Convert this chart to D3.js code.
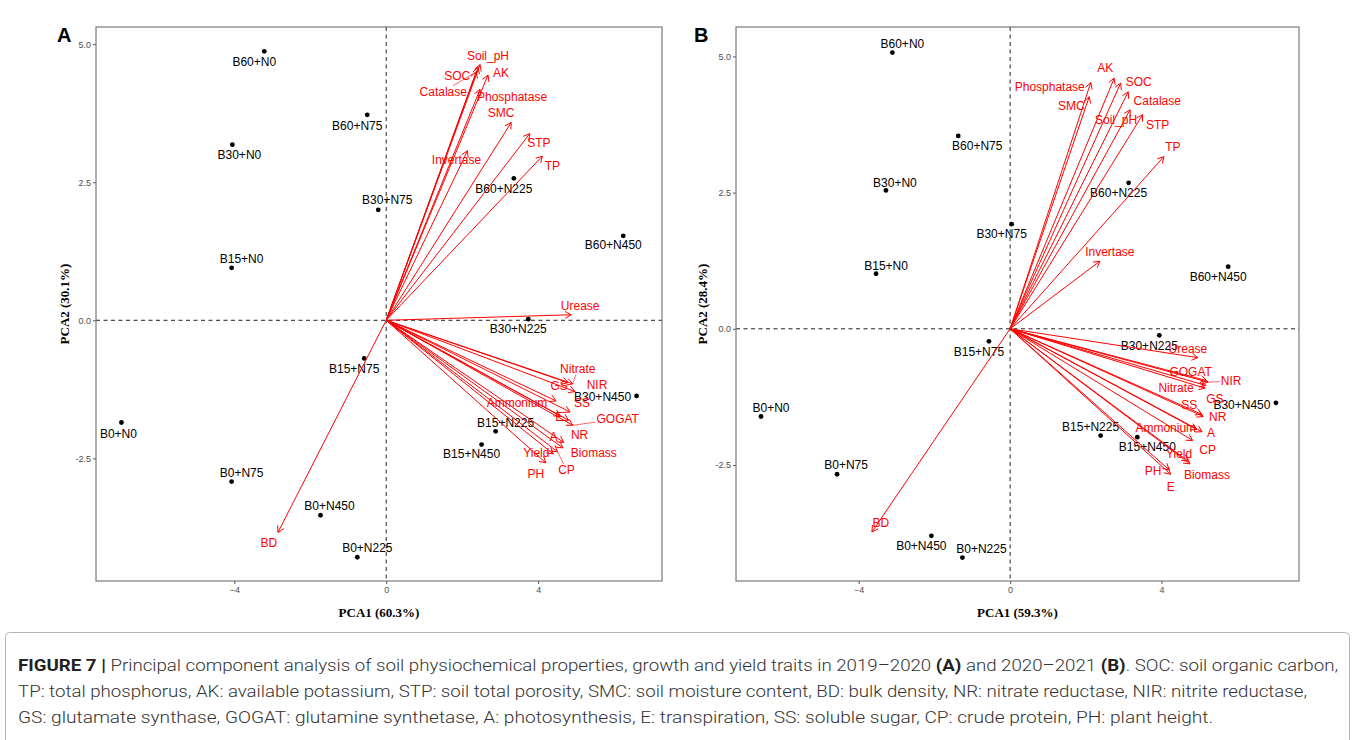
<!DOCTYPE html>
<html>
<head>
<meta charset="utf-8">
<script src="https://cdn.jsdelivr.net/npm/d3@7"></script>
<style>
  body { margin: 0; background: #fff; }
  svg { display: block; }
</style>
</head>
<body>
<svg id="fig" width="1355" height="740"></svg>
<script>
// ---- data ----
const samples = ["B0+N0", "B0+N75", "B0+N225", "B0+N450", "B15+N0", "B15+N75", "B15+N225", "B15+N450",
  "B30+N0", "B30+N75", "B30+N225", "B30+N450", "B60+N0", "B60+N75", "B60+N225", "B60+N450"];

// 2019-2020 (A)
const pc1A = [-6.97, -4.07, -0.76, -1.73, -4.07, -0.58, 2.88, 2.51, -4.05, -0.21, 3.74, 6.59, -3.21, -0.50, 3.36, 6.24];
const pc2A = [-1.85, -2.92, -4.29, -3.53, 0.95, -0.69, -2.01, -2.25, 3.18, 2.00, 0.02, -1.37, 4.87, 3.72, 2.57, 1.53];
const varsA = ["Soil_pH", "SOC", "Catalase", "AK", "Phosphatase", "SMC", "STP", "TP", "Invertase", "Urease", "BD",
  "Nitrate", "GS", "NIR", "SS", "Ammonium", "E", "GOGAT", "NR", "A", "Biomass", "Yield", "CP", "PH"];
const load1A = [2.47, 2.42, 2.37, 2.68, 2.47, 3.29, 3.78, 4.11, 2.14, 4.87, -2.85,
  4.91, 4.79, 4.97, 4.84, 4.47, 4.58, 4.91, 4.80, 4.67, 4.65, 4.40, 4.51, 4.20];
const load2A = [4.63, 4.58, 4.50, 4.44, 4.18, 3.58, 3.38, 2.97, 3.07, 0.10, -3.84,
  -1.15, -1.13, -1.29, -1.66, -1.46, -1.73, -1.90, -1.81, -2.21, -2.31, -2.42, -2.38, -2.58];

// 2020-2021 (B)
const pc1B = [-6.58, -4.57, -1.26, -2.08, -3.54, -0.56, 2.39, 3.36, -3.28, 0.04, 3.94, 7.02, -3.11, -1.37, 3.13, 5.76];
const pc2B = [-1.61, -2.67, -4.20, -3.80, 1.01, -0.23, -1.96, -1.99, 2.54, 1.92, -0.12, -1.36, 5.07, 3.54, 2.68, 1.14];
const varsB = ["Phosphatase", "SMC", "AK", "SOC", "Catalase", "Soil_pH", "STP", "TP", "Invertase", "BD", "Urease",
  "GOGAT", "NIR", "Nitrate", "GS", "SS", "NR", "Ammonium", "A", "CP", "Yield", "Biomass", "PH", "E"];
const load1B = [2.13, 2.09, 2.75, 2.92, 3.12, 3.17, 3.50, 4.06, 2.37, -3.65, 4.96,
  5.19, 5.23, 5.15, 5.17, 5.10, 5.06, 4.93, 5.07, 4.82, 4.70, 4.75, 4.20, 4.24];
const load2B = [4.52, 4.26, 4.60, 4.51, 4.35, 4.02, 3.93, 3.16, 1.24, -3.73, -0.53,
  -0.95, -0.98, -1.09, -1.04, -1.61, -1.57, -1.85, -1.89, -2.05, -2.43, -2.48, -2.59, -2.67];

const xTicks = [-4, 0, 4];
const yTicks = [-2.5, 0, 2.5, 5];
const yTickLabels = ["-2.5", "0.0", "2.5", "5.0"];

// ---- label placement (px offsets of label centre from point / arrow tip) ----
const ptOffA = [[-3, 11], [10, -9], [10, -9], [9, -9], [10, -9], [-10, 10], [10, -9], [-10, 9],
  [7, 10], [9, -10], [-10, 10], [-34, 1], [-10, 10], [-10, 11], [-10, 10], [-10, 9]];
const ptOffB = [[10, -9], [9, -9], [19, -9], [-10, 10], [10, -8], [-10, 10], [-10, -9], [10, 10],
  [9, -8], [-10, 10], [-10, 10], [-34, 2], [10, -9], [19, 10], [-10, 10], [-10, 10]];
const varOffA = [[8, -9], [-21, 8], [-33, 20], [13, -2], [32, 7], [-10, -10], [9, 9], [10, 10], [-11, 9], [9, -9], [-9, 10],
  [5, -15], [-9, 3], [22, -7], [12, -9], [-39, 2], [-1, 1], [45, -6], [11, 15], [-10, -6], [31, 5], [-17, -1], [9, 18], [-10, 11]];
const varOffB = [[-41, 4], [-18, 9], [-9, -10], [18, -1], [29, 9], [-14, 10], [15, 10], [9, -10], [10, -9], [9, -9], [-10, -9],
  [-16, -9], [23, -1], [-29, 0], [9, 13], [-14, -12], [16, 2], [-31, -2], [9, 1], [15, 9], [-9, -7], [17, 11], [-16, 1], [0, 13]];
const segsA = ["Catalase", "Nitrate", "GOGAT", "CP"];
const segsB = ["NIR"];

const RED = "#ff0000";
const svg = d3.select("#fig");

const panels = [
  { letter: "A", lx: 57, box: [96, 662, 27, 581], xd: [-7.64, 7.26], yd: [-4.72, 5.31],
    pc1: pc1A, pc2: pc2A, ptOff: ptOffA, vars: varsA, l1: load1A, l2: load2A, vOff: varOffA, segs: segsA,
    xTitle: "PCA1 (60.3%)", yTitle: "PCA2 (30.1%)", yTitleX: 64 },
  { letter: "B", lx: 694, box: [736, 1299, 27, 581], xd: [-7.24, 7.63], yd: [-4.63, 5.54],
    pc1: pc1B, pc2: pc2B, ptOff: ptOffB, vars: varsB, l1: load1B, l2: load2B, vOff: varOffB, segs: segsB,
    xTitle: "PCA1 (59.3%)", yTitle: "PCA2 (28.4%)", yTitleX: 702 }
];

panels.forEach(drawPanel);

function drawPanel(p) {
  const [x0, x1, y0, y1] = p.box;
  const x = d3.scaleLinear().domain(p.xd).range([x0, x1]);
  const y = d3.scaleLinear().domain(p.yd).range([y1, y0]);
  const g = svg.append("g");

  // axes
  const ax = g.append("g").attr("transform", `translate(0,${y1})`)
    .call(d3.axisBottom(x).tickValues(xTicks).tickFormat(d3.format("d")).tickSize(3).tickPadding(3));
  const ay = g.append("g").attr("transform", `translate(${x0},0)`)
    .call(d3.axisLeft(y).tickValues(yTicks).tickFormat((d, i) => yTickLabels[i]).tickSize(3).tickPadding(2));
  [ax, ay].forEach(a => {
    a.select(".domain").remove();
    a.selectAll("line").attr("stroke", "#555");
    a.selectAll("text").attr("fill", "#4d4d4d").style("font", "9px 'Liberation Sans', Arial, sans-serif");
  });

  // zero lines
  g.append("line").attr("x1", x(0)).attr("x2", x(0)).attr("y1", y0).attr("y2", y1)
    .attr("stroke", "#222").attr("stroke-dasharray", "4,3.5");
  g.append("line").attr("x1", x0).attr("x2", x1).attr("y1", y(0)).attr("y2", y(0))
    .attr("stroke", "#222").attr("stroke-dasharray", "4,3.5");

  // frame
  g.append("rect").attr("x", x0).attr("y", y0).attr("width", x1 - x0).attr("height", y1 - y0)
    .attr("fill", "none").attr("stroke", "#6e6e6e").attr("stroke-width", 1.1);

  // points
  g.selectAll(".pt").data(samples).join("circle")
    .attr("cx", (d, i) => x(p.pc1[i])).attr("cy", (d, i) => y(p.pc2[i]))
    .attr("r", 2.4).attr("fill", "#000");
  g.selectAll(".ptlab").data(samples).join("text")
    .attr("x", (d, i) => x(p.pc1[i]) + p.ptOff[i][0])
    .attr("y", (d, i) => y(p.pc2[i]) + p.ptOff[i][1])
    .attr("dy", "0.35em").attr("text-anchor", "middle")
    .style("font", "12px 'Liberation Sans', Arial, sans-serif").attr("fill", "#000")
    .text(d => d);

  // loading arrows
  const ox = x(0), oy = y(0);
  const head = 7, ang = Math.PI / 6;
  const arrows = g.append("g").attr("stroke", RED).attr("fill", "none").attr("stroke-width", 1);
  p.vars.forEach((v, i) => {
    const tx = x(p.l1[i]), ty = y(p.l2[i]);
    const a = Math.atan2(ty - oy, tx - ox);
    arrows.append("line").attr("x1", ox).attr("y1", oy).attr("x2", tx).attr("y2", ty);
    arrows.append("path").attr("d",
      `M${tx - head * Math.cos(a - ang)},${ty - head * Math.sin(a - ang)}L${tx},${ty}` +
      `L${tx - head * Math.cos(a + ang)},${ty - head * Math.sin(a + ang)}`);
  });

  // variable labels
  p.vars.forEach((v, i) => {
    const tx = x(p.l1[i]), ty = y(p.l2[i]);
    const cx = tx + p.vOff[i][0], cy = ty + p.vOff[i][1];
    const t = g.append("text").attr("x", cx).attr("y", cy).attr("dy", "0.35em")
      .attr("text-anchor", "middle").attr("fill", RED)
      .style("font", "12px 'Liberation Sans', Arial, sans-serif").text(v);
    if (p.segs.includes(v)) {
      const bb = t.node().getBBox();
      const hw = bb.width / 2 + 1, hh = bb.height / 2 - 1;
      const dx = tx - cx, dy = ty - cy;
      const k = Math.min(hw / Math.abs(dx || 1e-6), hh / Math.abs(dy || 1e-6));
      g.append("line").attr("x1", cx + k * dx).attr("y1", cy + k * dy).attr("x2", tx).attr("y2", ty)
        .attr("stroke", RED).attr("stroke-width", 0.6);
    }
  });

  // titles
  g.append("text").attr("x", (x0 + x1) / 2).attr("y", 617).attr("text-anchor", "middle")
    .style("font", "bold 13px 'Liberation Serif', 'Times New Roman', serif").text(p.xTitle);
  g.append("text").attr("transform", `translate(${p.yTitleX},${(y0 + y1) / 2}) rotate(-90)`)
    .attr("text-anchor", "middle").attr("dy", "0.35em")
    .style("font", "bold 13px 'Liberation Serif', 'Times New Roman', serif").text(p.yTitle);
  g.append("text").attr("x", p.lx).attr("y", 42)
    .style("font", "bold 20px 'Liberation Sans', Arial, sans-serif").text(p.letter);
}

// ---- caption ----
svg.append("rect").attr("x", 5.5).attr("y", 632.5).attr("width", 1344).attr("height", 130).attr("rx", 4)
  .attr("fill", "none").attr("stroke", "#b5b5b5");

const capLines = [
  { w: 1320, parts: [["FIGURE 7 |", true], [" Principal component analysis of soil physiochemical properties, growth and yield traits in 2019–2020 ", false],
    ["(A)", true], [" and 2020–2021 ", false], ["(B)", true], [". SOC: soil organic carbon,", false]] },
  { w: 1289, parts: [["TP: total phosphorus, AK: available potassium, STP: soil total porosity, SMC: soil moisture content, BD: bulk density, NR: nitrate reductase, NIR: nitrite reductase,", false]] },
  { w: 1195, parts: [["GS: glutamate synthase, GOGAT: glutamine synthetase, A: photosynthesis, E: transpiration, SS: soluble sugar, CP: crude protein, PH: plant height.", false]] }
];
capLines.forEach((ln, i) => {
  const t = svg.append("text").attr("x", 18).attr("y", 671 + i * 26)
    .attr("textLength", ln.w).attr("lengthAdjust", "spacingAndGlyphs")
    .attr("fill", "#333").style("font", "300 16px Roboto, 'Liberation Sans', sans-serif");
  ln.parts.forEach(([s, b]) => t.append("tspan").attr("font-weight", b ? 700 : 300)
    .attr("fill", b ? "#222" : "#333").text(s));
});
</script>
</body>
</html>
